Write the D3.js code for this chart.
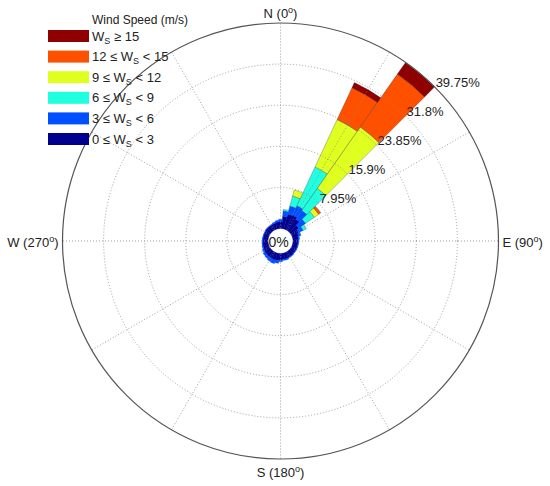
<!DOCTYPE html>
<html lang="en">

<head>
  <meta charset="UTF-8">
  <title>Wind rose</title>
  <style>
    * {
      box-sizing: border-box;
    }

    body {
      margin: 0;
      background: #fff;
    }

    #main {
      width: 550px;
      height: 486px;
    }

    text {
      font-family: "Liberation Sans", Arial, sans-serif;
      fill: #222;
    }
  </style>
</head>

<body>
  <div id="main"></div>
  <script src="https://d3js.org/d3.v7.min.js"></script>
  <script>
    // 1. data
    // direction bins, degrees clockwise from north, 10 degrees wide
    const directions = d3.range(0, 360, 10)

    // frequency (%) of each speed class in each direction bin
    const ws0to3 = [1.4, 2.4, 3.0, 3.2, 2.8, 1.9, 1.5, 1.2, 1.1, 1.0, 1.0, 1.0,
      1.0, 1.0, 1.1, 1.1, 1.2, 1.2, 1.3, 1.4, 1.4, 1.4, 1.3, 1.3,
      1.2, 1.1, 1.1, 1.0, 1.0, 1.0, 1.0, 1.1, 1.1, 1.1, 1.2, 1.3]
    const ws3to6 = [0.4, 1.0, 1.6, 1.9, 2.0, 1.6, 0.9, 0.4, 0.2, 0.1, 0.1, 0.1,
      0.1, 0.1, 0.1, 0.1, 0.2, 0.2, 0.3, 0.5, 0.7, 0.6, 0.5, 0.4,
      0.3, 0.2, 0.1, 0.1, 0.1, 0.1, 0.1, 0.1, 0.1, 0.1, 0.2, 0.3]
    const ws6to9 = [0, 0.3, 2.0, 8.3, 5.2, 2.1, 0.7, 0.1, 0, 0, 0, 0,
      0, 0, 0, 0, 0, 0, 0, 0, 0, 0, 0, 0,
      0, 0, 0, 0, 0, 0, 0, 0, 0, 0, 0, 0]
    const ws9to12 = [0, 0, 1.2, 10.1, 14.5, 1.0, 0, 0, 0, 0, 0, 0,
      0, 0, 0, 0, 0, 0, 0, 0, 0, 0, 0, 0,
      0, 0, 0, 0, 0, 0, 0, 0, 0, 0, 0, 0]
    const ws12to15 = [0, 0, 0, 6.8, 12.5, 0.5, 0, 0, 0, 0, 0, 0,
      0, 0, 0, 0, 0, 0, 0, 0, 0, 0, 0, 0,
      0, 0, 0, 0, 0, 0, 0, 0, 0, 0, 0, 0]
    const ws15up = [0, 0, 0, 1.1, 2.75, 0, 0, 0, 0, 0, 0, 0,
      0, 0, 0, 0, 0, 0, 0, 0, 0, 0, 0, 0,
      0, 0, 0, 0, 0, 0, 0, 0, 0, 0, 0, 0]

    const classNames = ['0-3', '3-6', '6-9', '9-12', '12-15', '15+']
    const classColors = ['#00008f', '#0050ff', '#20ffe0', '#dfff20', '#ff5000', '#8f0000']
    const ringTicks = [7.95, 15.9, 23.85, 31.8, 39.75]
    const ringLabels = ['7.95%', '15.9%', '23.85%', '31.8%', '39.75%']
    const spokeAngles = d3.range(0, 360, 30)
    const compass = [
      { name: 'N', deg: '0' },
      { name: 'E', deg: '90' },
      { name: 'S', deg: '180' },
      { name: 'W', deg: '270' }
    ]

    // 2. container
    const [width, height] = [550, 486]
    const svg = d3.select('#main').append('svg')
      .attr('width', width)
      .attr('height', height)
      .attr('viewBox', `0 0 ${width} ${height}`)

    const cx = 280.5, cy = 241
    const R = 218, r0 = 12.5
    const g = svg.append('g').attr('transform', `translate(${cx},${cy})`)

    // 3. scales
    const rScale = d3.scaleLinear().domain([0, 39.75]).range([r0, R])
    const rad = d => d * Math.PI / 180

    // stacked table built from the class arrays
    const table = directions.map((dir, i) => ({
      dir,
      '0-3': ws0to3[i], '3-6': ws3to6[i], '6-9': ws6to9[i],
      '9-12': ws9to12[i], '12-15': ws12to15[i], '15+': ws15up[i]
    }))
    const stacked = d3.stack().keys(classNames)(table)

    const arc = d3.arc()
      .innerRadius(d => rScale(d[0]))
      .outerRadius(d => rScale(d[1]))
      .startAngle(d => rad(d.data.dir - 5))
      .endAngle(d => rad(d.data.dir + 5))

    // 4. bars (low classes outlined in their own colour so the ring looks solid)
    stacked.forEach((layer, k) => {
      const low = k < 2
      g.append('g')
        .selectAll('path')
        .data(layer.filter(d => d[1] > d[0]))
        .join('path')
        .attr('d', arc)
        .attr('fill', classColors[k])
        .attr('stroke', low ? classColors[k] : '#222')
        .attr('stroke-opacity', low ? 1 : 0.55)
        .attr('stroke-width', low ? 0.4 : 0.5)
    })

    // 5. grid (drawn over the bars)
    const grid = g.append('g')
    grid.selectAll('circle.ring')
      .data(ringTicks.slice(0, -1))
      .join('circle')
      .attr('class', 'ring')
      .attr('r', d => rScale(d))
      .attr('fill', 'none')
      .attr('stroke', '#888')
      .attr('stroke-width', 0.8)
      .attr('stroke-dasharray', '1,2')

    grid.selectAll('line')
      .data(spokeAngles)
      .join('line')
      .attr('x1', d => rScale(0) * Math.sin(rad(d)))
      .attr('y1', d => -rScale(0) * Math.cos(rad(d)))
      .attr('x2', d => R * Math.sin(rad(d)))
      .attr('y2', d => -R * Math.cos(rad(d)))
      .attr('stroke', '#888')
      .attr('stroke-width', 0.8)
      .attr('stroke-dasharray', '1,2')

    grid.append('circle')
      .attr('r', rScale(39.75))
      .attr('fill', 'none')
      .attr('stroke', '#555')
      .attr('stroke-width', 1.2)

    // ring labels along 45 degrees
    g.selectAll('text.pct')
      .data(ringTicks)
      .join('text')
      .attr('class', 'pct')
      .attr('x', d => rScale(d) * Math.SQRT1_2 + 1)
      .attr('y', d => -rScale(d) * Math.SQRT1_2)
      .attr('font-size', 13)
      .text((d, i) => ringLabels[i])

    g.append('text')
      .attr('x', -2)
      .attr('y', 1)
      .attr('text-anchor', 'middle')
      .attr('dominant-baseline', 'central')
      .attr('font-size', 14)
      .text('0%')

    // compass labels
    const compassPos = {
      N: { x: 0, y: -R - 5, anchor: 'middle' },
      S: { x: 0, y: R + 18, anchor: 'middle' },
      E: { x: R + 4, y: 6, anchor: 'start' },
      W: { x: -R - 4, y: 6, anchor: 'end' }
    }
    compass.forEach(c => {
      const p = compassPos[c.name]
      const t = g.append('text')
        .attr('x', p.x)
        .attr('y', p.y)
        .attr('text-anchor', p.anchor)
        .attr('font-size', 13)
      t.append('tspan').text(`${c.name} (${c.deg}`)
      t.append('tspan').attr('dy', -5).attr('font-size', 9).text('o')
      t.append('tspan').attr('dy', 5).text(')')
    })

    // 6. legend
    const legend = svg.append('g').attr('transform', 'translate(48,0)')
    legend.append('text')
      .attr('x', 44)
      .attr('y', 24)
      .attr('font-size', 12)
      .text('Wind Speed (m/s)')

    const legendRows = [
      { color: classColors[5], pre: '', post: ' \u2265 15' },
      { color: classColors[4], pre: '12 \u2264 ', post: ' < 15' },
      { color: classColors[3], pre: '9 \u2264 ', post: ' < 12' },
      { color: classColors[2], pre: '6 \u2264 ', post: ' < 9' },
      { color: classColors[1], pre: '3 \u2264 ', post: ' < 6' },
      { color: classColors[0], pre: '0 \u2264 ', post: ' < 3' }
    ]
    legendRows.forEach((row, i) => {
      const y0 = 30 + i * 20.6
      legend.append('rect')
        .attr('x', 0)
        .attr('y', y0)
        .attr('width', 41)
        .attr('height', 12)
        .attr('fill', row.color)
      const t = legend.append('text')
        .attr('x', 44)
        .attr('y', y0 + 10.5)
        .attr('font-size', 13)
      t.append('tspan').text(row.pre + 'W')
      t.append('tspan').attr('dy', 3).attr('font-size', 9).text('S')
      t.append('tspan').attr('dy', -3).text(row.post)
    })
  </script>
</body>

</html>
